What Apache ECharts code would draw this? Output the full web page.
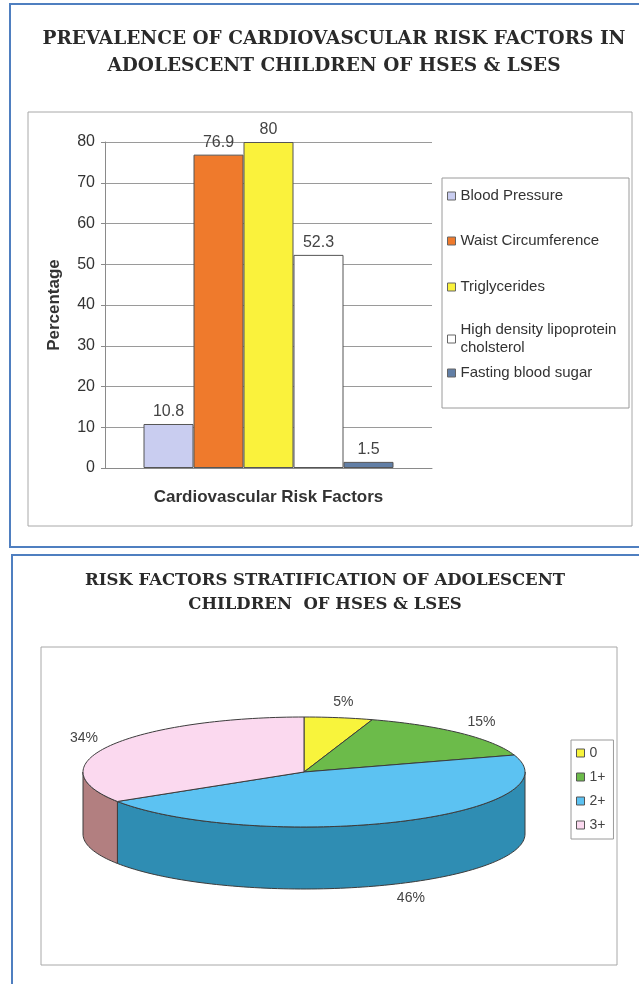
<!DOCTYPE html>
<html>
<head>
<meta charset="utf-8">
<script src="https://cdn.jsdelivr.net/npm/echarts@6/dist/echarts.min.js"></script>
<style>
  html, body { margin: 0; padding: 0; background: #ffffff; }
  #chart { width: 639px; height: 984px; }
</style>
</head>
<body>
<div id="chart"></div>
<script>
// Prevalence of cardiovascular risk factors (percent of children)
const riskFactors = ['Blood Pressure', 'Waist Circumference', 'Triglycerides', 'High density lipoprotein cholsterol', 'Fasting blood sugar'];
const riskPercent = [10.8, 76.9, 80, 52.3, 1.5];
const riskAxisTicks = [0, 10, 20, 30, 40, 50, 60, 70, 80];

// Risk factor stratification (number of risk factors, percent of children)
const strataNames = ['0', '1+', '2+', '3+'];
const strataPercent = [5, 15, 46, 34];

// Palettes
const barColors = ['#c9cdf0', '#ef7a2c', '#faf23c', '#ffffff', '#627fa6'];
const pieTopColors = ['#f8f43c', '#6cbb4a', '#5cc2f2', '#fbd9ef'];
const pieSideColors = ['#c7c42e', '#4f8f37', '#2f8db3', '#b27f80'];

const SANS = '"Liberation Sans", Arial, sans-serif';
const SERIF = '"DejaVu Serif", serif';

// ---- 3D-looking pie drawn as an elliptical disc with a front rim ----
const PIE = { cx: 304, cy: 772, rx: 221, ry: 55, depth: 62 };
const strataTotal = strataPercent.reduce((a, b) => a + b, 0);

function ellipsePt(theta, dy) {
  return [PIE.cx + PIE.rx * Math.sin(theta), PIE.cy - PIE.ry * Math.cos(theta) + dy];
}
function arcPts(a, b, dy) {
  const n = Math.max(2, Math.ceil((b - a) / (Math.PI / 120)));
  const pts = [];
  for (let i = 0; i <= n; i++) pts.push(ellipsePt(a + (b - a) * i / n, dy));
  return pts;
}
function sliceRenderer(idx) {
  return function (params, api) {
    const v = api.value(0);
    const before = strataPercent.slice(0, idx).reduce((a, b) => a + b, 0);
    const a = before / strataTotal * 2 * Math.PI;
    const b = (before + v) / strataTotal * 2 * Math.PI;
    const children = [];
    // visible (front) part of the rim lies between 90deg and 270deg, clockwise from 12 o'clock
    const fa = Math.max(a, Math.PI / 2), fb = Math.min(b, 1.5 * Math.PI);
    if (fb > fa) {
      const top = arcPts(fa, fb, 0);
      const bottom = arcPts(fa, fb, PIE.depth).reverse();
      children.push({
        type: 'polygon', z2: 1,
        shape: { points: top.concat(bottom) },
        style: { fill: pieSideColors[idx], stroke: '#3c3c3c', lineWidth: 1 }
      });
    }
    children.push({
      type: 'polygon', z2: 5,
      shape: { points: [[PIE.cx, PIE.cy]].concat(arcPts(a, b, 0)) },
      style: { fill: pieTopColors[idx], stroke: '#3c3c3c', lineWidth: 1 }
    });
    const m = (a + b) / 2, s = Math.sin(m), c = Math.cos(m);
    children.push({
      type: 'text', z2: 6,
      style: {
        text: v + '%',
        x: PIE.cx + (PIE.rx + 30) * s,
        y: PIE.cy - (PIE.ry + 16) * c + (c < 0 ? PIE.depth : 0),
        align: 'center', verticalAlign: 'middle',
        fill: '#444', font: '14px ' + SANS
      }
    });
    return { type: 'group', children };
  };
}

// ---- bar chart legends, one per item so the spacing can follow the layout ----
const barLegendTops = [187, 232, 278, 321, 364];
const barLegends = riskFactors.map((name, i) => ({
  data: [name],
  orient: 'vertical',
  left: 447,
  top: barLegendTops[i],
  padding: 0,
  icon: 'rect',
  itemWidth: 8,
  itemHeight: 8,
  selectedMode: false,
  itemStyle: { borderColor: '#666', borderWidth: 1 },
  textStyle: { fontFamily: SANS, fontSize: 15, color: '#333', lineHeight: 18 },
  formatter: n => n.length > 24 ? n.replace(/ (\S+)$/, '\n$1') : n
}));

const pieLegend = {
  data: strataNames,
  orient: 'vertical',
  left: 571,
  top: 740,
  padding: [5, 8, 6, 5],
  itemGap: 8,
  icon: 'rect',
  itemWidth: 8,
  itemHeight: 8,
  selectedMode: false,
  borderColor: '#9a9a9a',
  borderWidth: 1,
  itemStyle: { borderColor: '#555', borderWidth: 1 },
  textStyle: { fontFamily: SANS, fontSize: 14, color: '#444', lineHeight: 16 }
};

const option = {
  backgroundColor: '#ffffff',
  animation: false,
  title: [
    {
      text: 'PREVALENCE OF CARDIOVASCULAR RISK FACTORS IN\nADOLESCENT CHILDREN OF HSES & LSES',
      left: 334, top: 26, padding: 0, textAlign: 'center',
      textStyle: { fontFamily: SERIF, fontWeight: 'bold', fontSize: 18.5, lineHeight: 27, color: '#2a2a2a' }
    },
    {
      text: 'RISK FACTORS STRATIFICATION OF ADOLESCENT\nCHILDREN  OF HSES & LSES',
      left: 325, top: 569, padding: 0, textAlign: 'center',
      textStyle: { fontFamily: SERIF, fontWeight: 'bold', fontSize: 16.5, lineHeight: 24, color: '#2a2a2a' }
    }
  ],
  legend: barLegends.concat([pieLegend]),
  grid: { left: 105, right: 207, top: 142, bottom: 516 },
  xAxis: {
    type: 'category',
    data: [''],
    axisLine: { lineStyle: { color: '#8a8a8a' } },
    axisTick: { show: false },
    axisLabel: { show: false },
    name: 'Cardiovascular Risk Factors',
    nameLocation: 'middle',
    nameGap: 21,
    nameTextStyle: { fontFamily: SANS, fontWeight: 'bold', fontSize: 17, color: '#333' }
  },
  yAxis: {
    type: 'value',
    min: riskAxisTicks[0],
    max: riskAxisTicks[riskAxisTicks.length - 1],
    interval: riskAxisTicks[1] - riskAxisTicks[0],
    axisLine: { show: true, lineStyle: { color: '#8a8a8a' } },
    axisTick: { show: true, length: 4, lineStyle: { color: '#8a8a8a' } },
    splitLine: { lineStyle: { color: '#9a9a9a' } },
    axisLabel: { fontFamily: SANS, fontSize: 16, color: '#333', margin: 10 },
    name: 'Percentage',
    nameLocation: 'middle',
    nameGap: 42,
    nameTextStyle: { fontFamily: SANS, fontWeight: 'bold', fontSize: 17, color: '#333' }
  },
  series: riskFactors.map((name, i) => ({
    type: 'bar',
    name,
    data: [riskPercent[i]],
    barWidth: 50,
    barGap: '0%',
    itemStyle: { color: barColors[i], borderColor: '#555', borderWidth: 1 },
    label: { show: true, position: 'top', distance: 4, fontFamily: SANS, fontSize: 16, color: '#444' }
  })).concat(strataNames.map((name, i) => ({
    type: 'custom',
    name,
    coordinateSystem: 'none',
    data: [[strataPercent[i]]],
    itemStyle: { color: pieTopColors[i] },
    renderItem: sliceRenderer(i)
  }))),
  graphic: [
    // blue page frames
    { type: 'rect', shape: { x: 10, y: 4, width: 640, height: 543 }, style: { fill: 'none', stroke: '#4f7fc0', lineWidth: 2 }, z: -1 },
    { type: 'rect', shape: { x: 12, y: 555, width: 640, height: 440 }, style: { fill: 'none', stroke: '#4f7fc0', lineWidth: 2 }, z: -1 },
    // chart area frames
    { type: 'rect', shape: { x: 28, y: 112, width: 604, height: 414 }, style: { fill: 'none', stroke: '#a8a8a8', lineWidth: 1 }, z: -1 },
    { type: 'rect', shape: { x: 41, y: 647, width: 576, height: 318 }, style: { fill: 'none', stroke: '#a8a8a8', lineWidth: 1 }, z: -1 },
    // bar chart legend frame
    { type: 'rect', shape: { x: 442, y: 178, width: 187, height: 230 }, style: { fill: 'none', stroke: '#9a9a9a', lineWidth: 1 }, z: -1 }
  ]
};

const chart = echarts.init(document.getElementById('chart'), null, { renderer: 'canvas' });
chart.setOption(option);
</script>
</body>
</html>
